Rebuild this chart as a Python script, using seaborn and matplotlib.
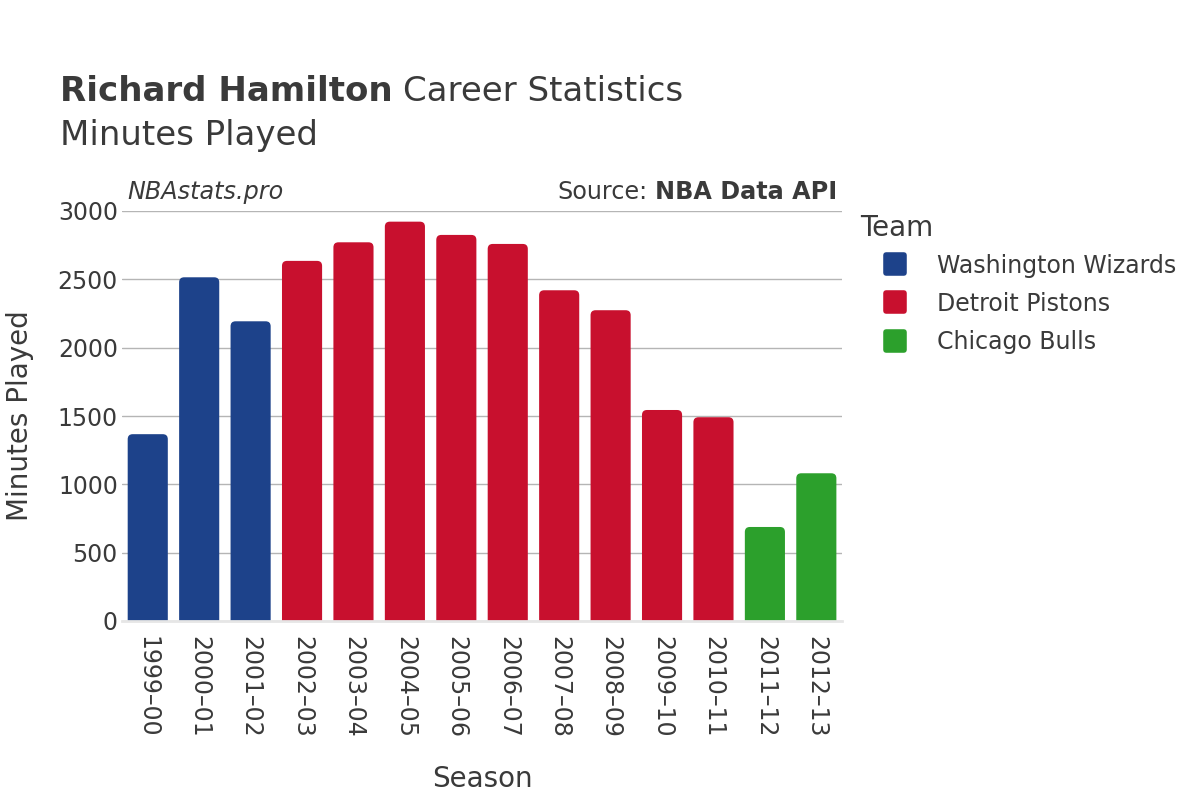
import pandas as pd
import matplotlib.pyplot as plt
import seaborn as sns
from matplotlib.patches import FancyBboxPatch
from matplotlib.lines import Line2D
from matplotlib.markers import MarkerStyle

# Season-by-season minutes played
seasons = ["1999–00", "2000–01", "2001–02", "2002–03", "2003–04", "2004–05", "2005–06",
           "2006–07", "2007–08", "2008–09", "2009–10", "2010–11", "2011–12", "2012–13"]
teams = ["Washington Wizards", "Washington Wizards", "Washington Wizards",
         "Detroit Pistons", "Detroit Pistons", "Detroit Pistons", "Detroit Pistons",
         "Detroit Pistons", "Detroit Pistons", "Detroit Pistons", "Detroit Pistons",
         "Detroit Pistons", "Chicago Bulls", "Chicago Bulls"]
minutes = [1367, 2515, 2193, 2635, 2771, 2922, 2825, 2759, 2420, 2274, 1544, 1491, 688, 1081]

team_order = ["Washington Wizards", "Detroit Pistons", "Chicago Bulls"]
team_colors = {"Washington Wizards": "#1D428A", "Detroit Pistons": "#C8102E",
               "Chicago Bulls": "#2CA02C"}
y_ticks = [0, 500, 1000, 1500, 2000, 2500, 3000]

df = pd.DataFrame({"season": seasons, "team": teams, "minutes": minutes})

sns.set_theme(style="white")
plt.rcParams["font.family"] = ["DejaVu Sans"]
text_col = "#3a3a3a"

fig = plt.figure(figsize=(12, 8), dpi=100)
ax = fig.add_axes([0.1017, 0.22375, 0.6, 0.5125])

sns.barplot(data=df, x="season", y="minutes", hue="team", hue_order=team_order,
            palette=team_colors, dodge=False, width=0.78, saturation=1, ax=ax, legend=False)

ax.set_xlim(-0.5, len(seasons) - 0.5)
ax.set_ylim(0, 3000)

# swap the plain rectangles for rounded ones (bottom corners pushed below the axis)
px_x = 720 / len(seasons)
px_y = 410 / 3000
rad = 5 / px_x
aspect = (5 / px_y) / rad
for p in list(ax.patches):
    x, w, h = p.get_x(), p.get_width(), p.get_height()
    if h <= 0:
        continue
    drop = 40
    rb = FancyBboxPatch((x, -drop), w, h + drop,
                        boxstyle=f"round,pad=0,rounding_size={rad}",
                        mutation_aspect=aspect, facecolor=p.get_facecolor(),
                        edgecolor="none", linewidth=0)
    p.remove()
    ax.add_patch(rb)

ax.set_yticks(y_ticks)
ax.yaxis.grid(True, color="#b5b5b5", linewidth=1)
ax.set_axisbelow(True)
for side in ["left", "right", "top"]:
    ax.spines[side].set_visible(False)
ax.spines["bottom"].set_color("#e6e6e6")
ax.spines["bottom"].set_linewidth(2)
ax.spines["bottom"].set_zorder(5)
ax.tick_params(axis="both", length=0, labelsize=17, colors=text_col)
ax.tick_params(axis="y", pad=3)
ax.tick_params(axis="x", pad=11)
plt.setp(ax.get_xticklabels(), rotation=-90, va="top", ha="center")

ax.set_xlabel("Season", fontsize=20, color=text_col, labelpad=19)
ax.set_ylabel("Minutes Played", fontsize=20, color=text_col, labelpad=17)

# legend on the right, rounded square markers
handles = [Line2D([], [], linestyle="", marker=MarkerStyle("s", joinstyle="round"),
                  markersize=13, markerfacecolor=team_colors[t],
                  markeredgecolor=team_colors[t], markeredgewidth=4)
           for t in team_order]
leg = ax.legend(handles, team_order, title="Team", loc="upper left",
                bbox_to_anchor=(0.7167, 0.732), bbox_transform=fig.transFigure,
                frameon=False, fontsize=17, title_fontsize=20, handlelength=3.0,
                handletextpad=0.28, labelspacing=0.6, borderpad=0, borderaxespad=0,
                alignment="left")
leg._legend_box.sep = 8
leg.get_title().set_color(text_col)
for t in leg.get_texts():
    t.set_color(text_col)

# titles
fig.canvas.draw()
r = fig.canvas.get_renderer()
t1 = fig.text(0.05, 0.874, "Richard Hamilton", fontsize=24.5, fontweight="bold",
              color=text_col, va="baseline")
bb = t1.get_window_extent(renderer=r)
fig.text(bb.x1 / fig.bbox.width + 0.009, 0.874, "Career Statistics", fontsize=24.5,
         color=text_col, va="baseline")
fig.text(0.05, 0.819, "Minutes Played", fontsize=24.5, color=text_col, va="baseline")

fig.text(0.106, 0.751, "NBAstats.pro", fontsize=17.2, style="italic", color=text_col,
         va="baseline")
t2 = fig.text(0.698, 0.751, "NBA Data API", fontsize=17.2, fontweight="bold",
              color=text_col, va="baseline", ha="right")
bb2 = t2.get_window_extent(renderer=r)
fig.text(bb2.x0 / fig.bbox.width - 0.0065, 0.751, "Source:", fontsize=17.2,
         color=text_col, va="baseline", ha="right")

fig.savefig("out.png", dpi=100)
